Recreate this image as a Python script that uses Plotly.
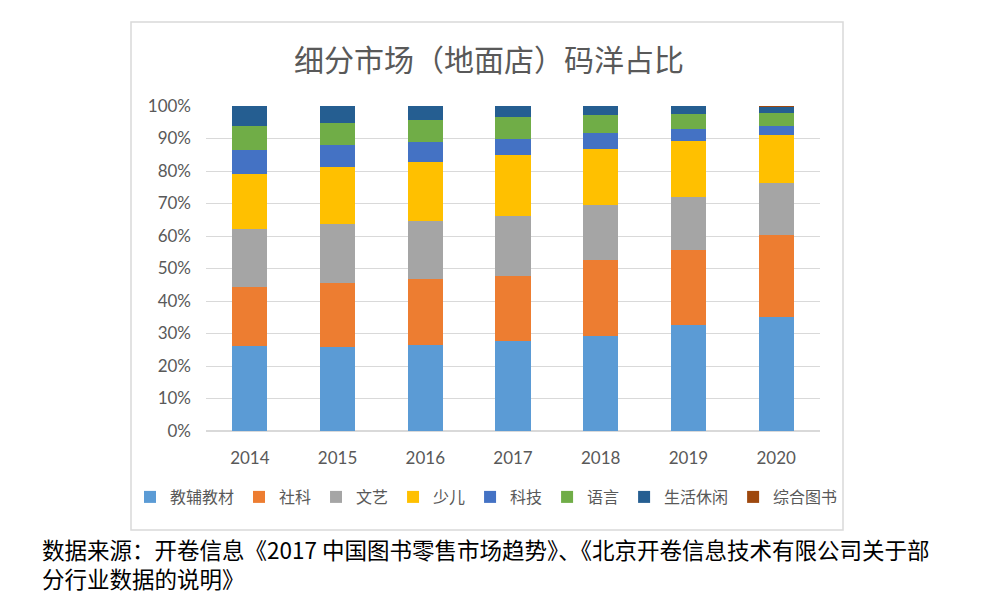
import plotly.graph_objects as go

years = ["2014", "2015", "2016", "2017", "2018", "2019", "2020"]
series_names = ["教辅教材", "社科", "文艺", "少儿", "科技", "语言", "生活休闲", "综合图书"]
jiaofu = [26.2, 25.8, 26.4, 27.7, 29.1, 32.7, 35.1]
sheke = [18.0, 19.7, 20.5, 19.9, 23.6, 23.1, 25.1]
wenyi = [17.9, 18.2, 17.6, 18.7, 16.8, 16.1, 16.0]
shaoer = [17.1, 17.5, 18.3, 18.5, 17.4, 17.3, 14.9]
keji = [7.4, 6.7, 6.0, 4.9, 4.8, 3.8, 2.9]
yuyan = [7.2, 7.0, 6.8, 6.8, 5.5, 4.4, 3.7]
shenghuo = [6.2, 5.1, 4.4, 3.5, 2.8, 2.6, 2.0]
zonghe = [0.0, 0.0, 0.0, 0.0, 0.0, 0.0, 0.3]
colors = ["#5B9BD5", "#ED7D31", "#A5A5A5", "#FFC000", "#4472C4", "#70AD47", "#255E91", "#9E480E"]

all_series = [jiaofu, sheke, wenyi, shaoer, keji, yuyan, shenghuo, zonghe]

fig = go.Figure()
for name, vals, c in zip(series_names, all_series, colors):
    fig.add_trace(go.Bar(x=years, y=vals, name=name, marker=dict(color=c, line=dict(width=0))))

# page offset (body margin) compensation
O = 8
W, H = 996, 600
L, R, T, B = 206 - O, 820 - O, 106 - O, 431 - O
pw, ph = R - L, B - T

def px(x):
    return (x - O - L) / pw

def py(y):
    return (B - (y - O)) / ph

fig.update_layout(
    width=W, height=H,
    barmode="stack", bargap=0.6,
    margin=dict(l=L, r=W - R, t=T, b=H - B),
    paper_bgcolor="white", plot_bgcolor="white",
    font=dict(family="Noto Sans CJK SC", color="#595959"),
    showlegend=True,
    legend=dict(orientation="h", x=px(130), xanchor="left",
                y=py(497), yanchor="middle", bgcolor="rgba(255,255,255,0)",
                font=dict(size=16, color="#595959", family="Noto Sans CJK SC"),
                itemwidth=30, traceorder="normal"),
    xaxis=dict(showgrid=False, tickfont=dict(size=17, color="#595959", family="Lato"),
               ticks="", showline=False, tickangle=0, ticklabelstandoff=15),
    yaxis=dict(range=[0, 100], dtick=10, ticksuffix="%", showgrid=True, gridcolor="#D9D9D9",
               gridwidth=1, zeroline=True, zerolinecolor="#D9D9D9", ticklabelstandoff=14,
               tickfont=dict(size=17, color="#595959", family="Lato"), ticks="", showline=False),
)

fig.add_shape(type="rect", xref="paper", yref="paper",
              x0=px(131), x1=px(843), y0=py(530), y1=py(22),
              line=dict(color="#D9D9D9", width=1.5), fillcolor="rgba(0,0,0,0)", layer="below")

fig.add_annotation(text="细分市场（地面店）码洋占比", xref="paper", yref="paper",
                   x=px(489), y=py(58), xanchor="center", yanchor="middle", showarrow=False,
                   font=dict(size=30, color="#595959", family="Noto Sans CJK SC"))

fig.add_annotation(text="数据来源：开卷信息《2017 中国图书零售市场趋势》、《北京开卷信息技术有限公司关于部",
                   xref="paper", yref="paper", x=px(40), y=py(549), xanchor="left", yanchor="middle",
                   align="left", showarrow=False,
                   font=dict(size=22.5, color="#000000", family="Noto Sans CJK SC"))
fig.add_annotation(text="分行业数据的说明》",
                   xref="paper", yref="paper", x=px(40), y=py(578), xanchor="left", yanchor="middle",
                   align="left", showarrow=False,
                   font=dict(size=22.5, color="#000000", family="Noto Sans CJK SC"))

fig.write_html("out.html")
